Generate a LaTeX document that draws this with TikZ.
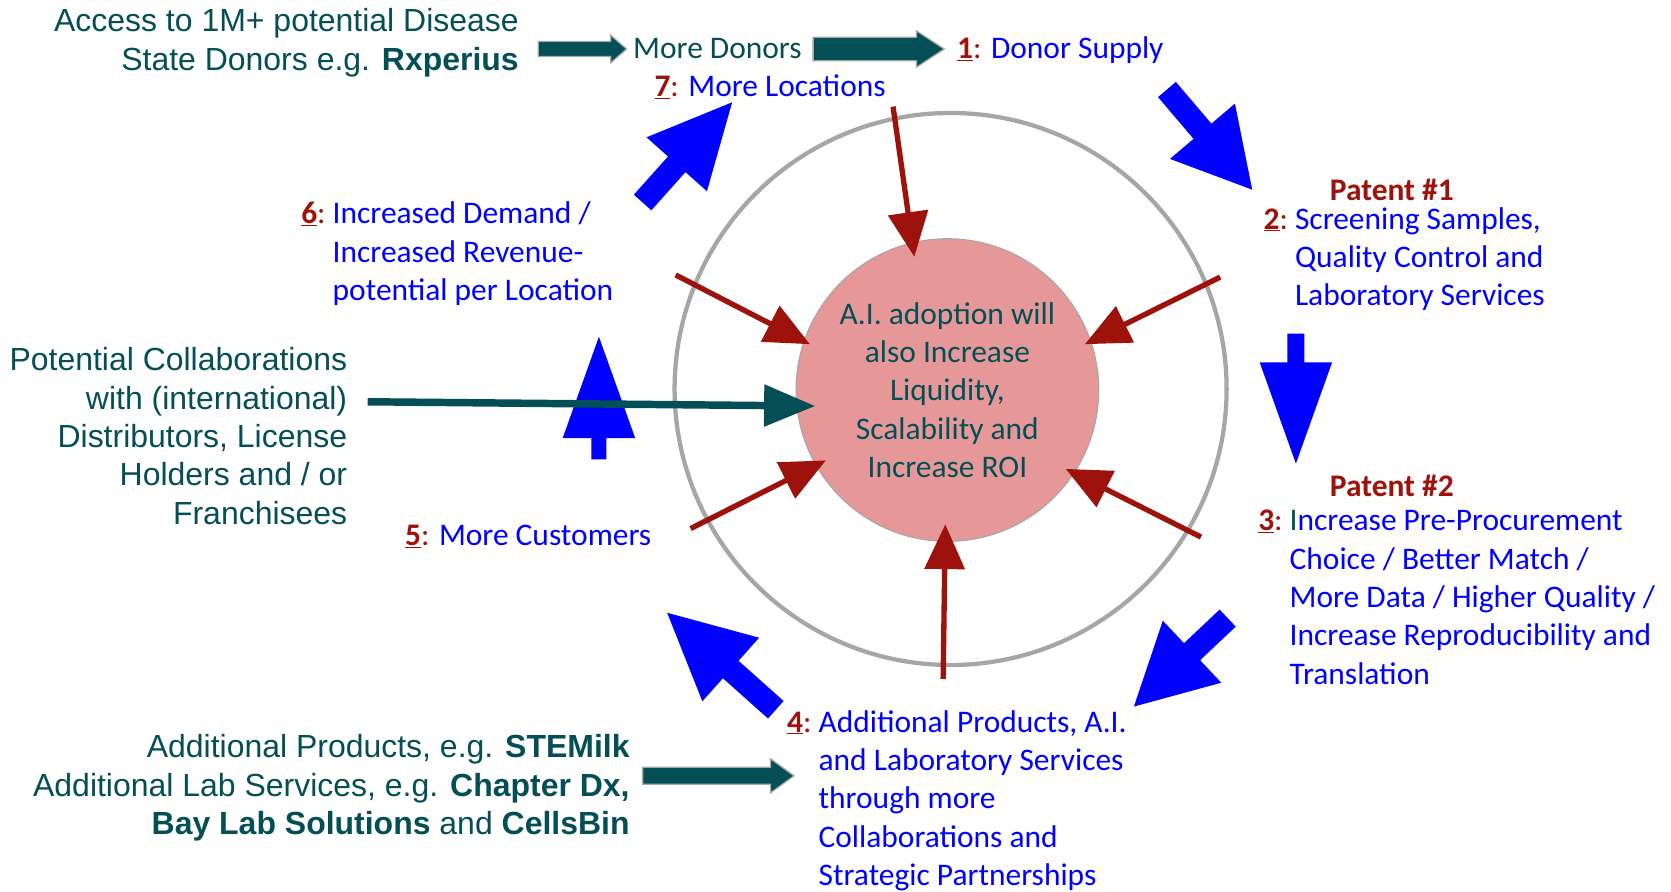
\documentclass[tikz,border=0pt]{standalone}
\usepackage{fontspec}
\setmainfont{Carlito}
\newfontfamily\arialf{Liberation Sans}
\usetikzlibrary{calc,arrows.meta}
\definecolor{tealc}{RGB}{4,79,86}
\definecolor{dred}{RGB}{158,18,12}
\definecolor{pinkc}{RGB}{230,152,152}
\definecolor{ringc}{RGB}{166,166,166}
\definecolor{bluec}{RGB}{0,0,255}
\newcommand\stepnum[1]{{\color{dred}\underline{\textbf{#1}}:}}
\newcommand\hang[1]{\makebox[0pt][r]{\stepnum{#1}~}}
% tail, tip, half shaft, half head, head length, style
\newcommand\blockarr[6]{%
  \coordinate (ba-b) at ($(#2)!#5!(#1)$);
  \fill[#6] ($(#1)!#3!90:(#2)$) -- ($(ba-b)!#3!90:(#2)$) -- ($(ba-b)!#4!90:(#2)$) -- (#2)
    -- ($(ba-b)!#4!-90:(#2)$) -- ($(ba-b)!#3!-90:(#2)$) -- ($(#1)!#3!-90:(#2)$) -- cycle;}
\begin{document}
\begin{tikzpicture}[x=1pt,y=-1pt,
  cal/.style={font=\fontsize{29.5}{36}\selectfont, inner sep=0pt, align=left},
  lbl/.style={cal, text=bluec},
  ari/.style={font=\arialf\fontsize{30}{36}\selectfont, text=tealc, inner sep=0pt},
  patent/.style={cal, text=dred, font=\fontsize{29.5}{36}\selectfont\bfseries},
  redarr/.style={draw=dred, line width=5pt, -{Triangle[length=42pt,width=37pt]}},
  tealblk/.style={fill=tealc, draw=ringc, line width=1.2pt},
  blueblk/.style={fill=bluec}]
\useasboundingbox (0,0) rectangle (1568,837);

% circles
\node[circle, draw=ringc, line width=4pt, minimum size=518pt, inner sep=0pt] (ring) at (892,365) {};
\node[circle, fill=pinkc, draw=ringc, line width=1pt, minimum size=284pt, inner sep=0pt,
  font=\fontsize{29.5}{36}\selectfont, text=tealc, align=center] (core) at (889,366)
  {A.I. adoption will\\also Increase\\Liquidity,\\Scalability and\\Increase ROI};

% texts (anchor base = baseline of last line)
\node[ari, align=right, anchor=base east] (acc) at (487,66)
  {Access to 1M+ potential Disease\\State Donors e.g. \textbf{Rxperius}};
\node[cal, text=tealc, anchor=base west] (more) at (594,55) {More Donors};
\node[lbl, anchor=base west] (s1) at (898,55) {\stepnum{1} Donor Supply};
\node[lbl, anchor=base west] (s7) at (614,91) {\stepnum{7} More Locations};
\node[lbl, anchor=base west] (s6) at (312,282) {\hang{6}Increased Demand /\\Increased Revenue-\\potential per Location};
\node[patent, anchor=base] (p1) at (1306,188) {Patent \#1};
\node[lbl, anchor=base west] (s2) at (1215,287) {\hang{2}Screening Samples,\\Quality Control and\\Laboratory Services};
\node[patent, anchor=base] (p2) at (1306,466) {Patent \#2};
\node[lbl, anchor=base west] (s3) at (1210,642) {\hang{3}{\color{tealc}I}ncrease Pre-Procurement\\Choice / Better Match /\\More Data / Higher Quality /\\Increase Reproducibility and\\Translation};
\node[lbl, anchor=base west] (s4) at (768,831) {\hang{4}Additional Products, A.I.\\and Laboratory Services\\through more\\Collaborations and\\Strategic Partnerships};
\node[lbl, anchor=base west] (s5) at (380,512) {\stepnum{5} More Customers};
\node[ari, align=right, anchor=base east] (collab) at (326,492)
  {Potential Collaborations\\with (international)\\Distributors, License\\Holders and / or\\Franchisees};
\node[ari, align=right, anchor=base east] (addp) at (591,783)
  {Additional Products, e.g. \textbf{STEMilk}\\Additional Lab Services, e.g. \textbf{Chapter Dx,}\\\textbf{Bay Lab Solutions} and \textbf{CellsBin}};

% teal block arrows
\coordinate (t1a) at (505,46); \coordinate (t1b) at (588,46);
\coordinate (t2a) at (763,46); \coordinate (t2b) at (886,46);
\coordinate (t3a) at (603,728); \coordinate (t3b) at (745,728);
\blockarr{t1a}{t1b}{7pt}{13pt}{15pt}{tealblk}
\blockarr{t2a}{t2b}{11pt}{17pt}{26pt}{tealblk}
\blockarr{t3a}{t3b}{8pt}{16pt}{22pt}{tealblk}

% blue block arrows
\coordinate (b1a) at (1095,84);  \coordinate (b1b) at (1175,178);
\coordinate (b2a) at (1216,313); \coordinate (b2b) at (1216,435);
\coordinate (b3a) at (1152,580); \coordinate (b3b) at (1064,663);
\coordinate (b4a) at (728,666);  \coordinate (b4b) at (626,575);
\coordinate (b5a) at (562,431);  \coordinate (b5b) at (562,316);
\coordinate (b6a) at (603,190);  \coordinate (b6b) at (687,96);
\blockarr{b1a}{b1b}{11pt}{40pt}{72pt}{blueblk}
\blockarr{b2a}{b2b}{8pt}{34pt}{95pt}{blueblk}
\blockarr{b3a}{b3b}{11pt}{40pt}{75pt}{blueblk}
\blockarr{b4a}{b4b}{11pt}{40pt}{80pt}{blueblk}
\blockarr{b5a}{b5b}{7pt}{34pt}{95pt}{blueblk}
\blockarr{b6a}{b6b}{11pt}{38pt}{78pt}{blueblk}

% teal line arrow
\coordinate (tl) at (345,377);
\coordinate (tlh) at (765,381);
\draw[draw=tealc, line width=7pt, -{Triangle[length=48pt,width=38pt]}] (tl) -- (tlh);

% red arrows
\coordinate (r1a) at (838,100);  \coordinate (r1b) at (858,241);
\coordinate (r2a) at (634,258);  \coordinate (r2b) at (760,323);
\coordinate (r3a) at (1145,260); \coordinate (r3b) at (1018,323);
\coordinate (r4a) at (648,496);  \coordinate (r4b) at (775,432);
\coordinate (r5a) at (1127,504); \coordinate (r5b) at (1000,440);
\coordinate (r6a) at (885,637);  \coordinate (r6b) at (887,492);
\foreach \i in {1,...,6} {\draw[redarr] (r\i a) -- (r\i b);}
\end{tikzpicture}
\end{document}
